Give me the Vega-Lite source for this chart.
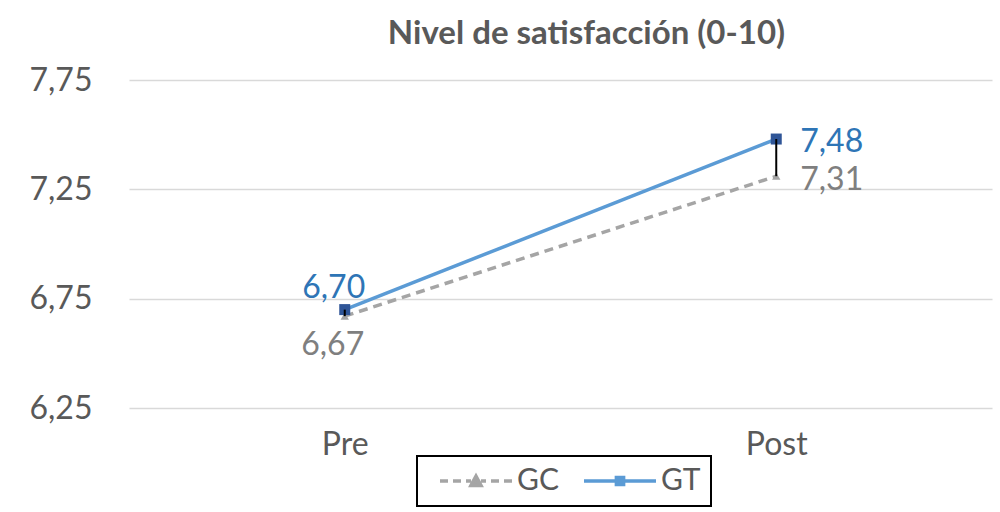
{
  "$schema": "https://vega.github.io/schema/vega-lite/v6.json",
  "width": 863,
  "height": 328,
  "autosize": {"type": "none"},
  "padding": {"left": 129, "top": 80, "right": 8, "bottom": 104},
  "background": "white",
  "title": {
    "text": "Nivel de satisfacción (0-10)",
    "font": "Lato",
    "fontSize": 33,
    "fontWeight": "bold",
    "color": "#595959",
    "baseline": "alphabetic",
    "offset": -13,
    "dx": 26
  },
  "data": {
    "values": [
      {"momento": "Pre", "grupo": "GC", "valor": 6.67},
      {"momento": "Post", "grupo": "GC", "valor": 7.31},
      {"momento": "Pre", "grupo": "GT", "valor": 6.70},
      {"momento": "Post", "grupo": "GT", "valor": 7.48}
    ]
  },
  "transform": [
    {"calculate": "replace(format(datum.valor, '.2f'), '.', ',')", "as": "etiqueta"}
  ],
  "encoding": {
    "x": {
      "field": "momento",
      "type": "nominal",
      "sort": ["Pre", "Post"],
      "scale": {"type": "point", "padding": 0.5},
      "axis": {
        "title": null,
        "domain": false,
        "ticks": false,
        "grid": false,
        "labelAngle": 0,
        "labelFont": "Lato",
        "labelFontSize": 32,
        "labelColor": "#595959",
        "labelPadding": 21
      }
    },
    "y": {
      "field": "valor",
      "type": "quantitative",
      "scale": {"domain": [6.25, 7.75], "nice": false, "zero": false},
      "axis": {
        "title": null,
        "domain": false,
        "ticks": false,
        "values": [6.25, 6.75, 7.25, 7.75],
        "labelExpr": "replace(format(datum.value, '.2f'), '.', ',')",
        "labelFont": "Lato",
        "labelFontSize": 32,
        "labelColor": "#595959",
        "labelPadding": 37,
        "gridColor": "#D9D9D9",
        "gridWidth": 1.5
      }
    }
  },
  "layer": [
    {
      "transform": [{"filter": "datum.grupo === 'GC'"}],
      "mark": {"type": "line", "color": "#A5A5A5", "strokeWidth": 3.5, "strokeDash": [9, 6]}
    },
    {
      "transform": [{"filter": "datum.grupo === 'GT'"}],
      "mark": {"type": "line", "color": "#5B9BD5", "strokeWidth": 3.5}
    },
    {
      "transform": [{"filter": "datum.grupo === 'GC'"}],
      "mark": {"type": "point", "shape": "triangle-up", "filled": true, "color": "#A5A5A5", "size": 70, "opacity": 1}
    },
    {
      "transform": [{"filter": "datum.grupo === 'GT'"}],
      "mark": {"type": "point", "shape": "square", "filled": true, "color": "#2F5597", "size": 121, "opacity": 1}
    },
    {
      "transform": [
        {"pivot": "grupo", "value": "valor", "groupby": ["momento"]}
      ],
      "mark": {"type": "rule", "color": "black", "strokeWidth": 2},
      "encoding": {
        "y": {"field": "GC", "type": "quantitative"},
        "y2": {"field": "GT"}
      }
    },
    {
      "transform": [{"filter": "datum.grupo === 'GT' && datum.momento === 'Pre'"}],
      "mark": {"type": "text", "font": "Lato", "fontSize": 32, "color": "#2E75B6", "align": "center", "baseline": "alphabetic", "dx": -11, "dy": -12},
      "encoding": {"text": {"field": "etiqueta"}}
    },
    {
      "transform": [{"filter": "datum.grupo === 'GC' && datum.momento === 'Pre'"}],
      "mark": {"type": "text", "font": "Lato", "fontSize": 32, "color": "#7F7F7F", "align": "center", "baseline": "alphabetic", "dx": -12, "dy": 39},
      "encoding": {"text": {"field": "etiqueta"}}
    },
    {
      "transform": [{"filter": "datum.grupo === 'GT' && datum.momento === 'Post'"}],
      "mark": {"type": "text", "font": "Lato", "fontSize": 32, "color": "#2E75B6", "align": "left", "baseline": "alphabetic", "dx": 24, "dy": 13},
      "encoding": {"text": {"field": "etiqueta"}}
    },
    {
      "transform": [{"filter": "datum.grupo === 'GC' && datum.momento === 'Post'"}],
      "mark": {"type": "text", "font": "Lato", "fontSize": 32, "color": "#7F7F7F", "align": "left", "baseline": "alphabetic", "dx": 24, "dy": 14},
      "encoding": {"text": {"field": "etiqueta"}}
    },
    {
      "mark": {"type": "point", "filled": true, "opacity": 0},
      "encoding": {
        "color": {
          "field": "grupo",
          "type": "nominal",
          "scale": {"domain": ["GC", "GT"], "range": ["#A5A5A5", "#2F5597"]},
          "legend": {
            "title": null,
            "orient": "none",
            "legendX": 288,
            "legendY": 376,
            "direction": "horizontal",
            "strokeColor": "black",
            "padding": 10,
            "symbolSize": 256,
            "symbolOpacity": 1,
            "symbolStrokeWidth": 3.5,
            "labelFont": "Lato",
            "labelFontSize": 30,
            "labelColor": "#595959",
            "labelOffset": 60,
            "columnPadding": 12,
            "encode": {
              "legend": {"update": {"strokeWidth": {"value": 2}}},
              "symbols": {
                "update": {
                  "stroke": {"signal": "datum.value === 'GC' ? '#A5A5A5' : '#5B9BD5'"},
                  "strokeWidth": {"value": 3.5},
                  "opacity": {"value": 1}
                }
              }
            }
          }
        },
        "shape": {
          "field": "grupo",
          "type": "nominal",
          "scale": {
            "domain": ["GC", "GT"],
            "range": [
              "M-0.25,0H0.75M1.375,0H2.375M3,0H3.625M4.875,0H5.5M6.125,0H7.125M7.75,0H8.75M3.625,0.55L4.25,-0.6L4.875,0.55Z",
              "M-0.25,0H8.75M3.8,-0.45H4.7V0.45H3.8Z"
            ]
          }
        }
      }
    }
  ],
  "config": {
    "view": {"stroke": null},
    "font": "Lato"
  }
}
